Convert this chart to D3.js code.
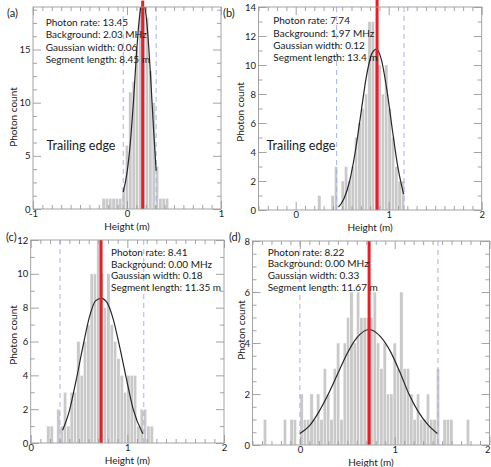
<!DOCTYPE html>
<html><head><meta charset="utf-8">
<script src="https://cdn.jsdelivr.net/npm/d3@7"></script>
<style>
body{margin:0;background:#fff}
svg{display:block}
text{font-family:Lato,"Noto Sans",sans-serif;fill:#1a1a1a}
</style>
</head><body>
<svg id="chart" width="491" height="467"></svg>
<script>
// ---------------- DATA ----------------
const panelLabels = ["(a)", "(b)", "(c)", "(d)"];
const xAxisTitle = "Height (m)";
const yAxisTitle = "Photon count";
const trailingText = "Trailing edge";

// Panel (a)
const xDomainA = [-1, 1];
const yDomainA = [0, 19];
const xTicksA = [-1, 0, 1];
const yTicksA = [0, 5, 10, 15];
const binWidthA = 0.0355;
const binLeftA = [-0.266,-0.231,-0.195,-0.160,-0.124,-0.089,-0.053,-0.018,0.018,0.054,0.089,0.125,0.160,0.196,0.231,0.267,0.302,0.338,0.373,0.409];
const countsA  = [1,1,1,1,1,1,2,6,11,12,15,19,19,18,13,10,4,1,1,1];
const curveXA = [-0.04,0.0,0.035,0.07,0.10,0.13,0.16,0.19,0.22,0.25,0.28,0.31];
const curveYA = [1.6,3.4,6.2,10.3,14.5,17.8,19.4,19.0,16.6,12.6,7.9,3.6];
const redA = 0.167;
const dashedA = [-0.04, 0.31];
const infoA = ["Photon rate: 13.45","Background: 2.03 MHz","Gaussian width: 0.06","Segment length: 8.45 m"];

// Panel (b)
const xDomainB = [-0.4, 2];
const yDomainB = [0, 14];
const xTicksB = [0, 1, 2];
const yTicksB = [0, 2, 4, 6, 8, 10, 12, 14];
const binWidthB = 0.036;
const binLeftB = [0.236,0.380,0.416,0.452,0.488,0.524,0.560,0.596,0.632,0.668,0.704,0.740,0.776,0.812,0.848,0.884,0.920,0.956,0.992,1.028,1.064,1.100,1.136];
const countsB  = [1,1,3,0,2,3,2,3,5,6,7,8,13,13,11,10,8,10,7,5,3,2,2];
const curveXB = [0.46,0.52,0.58,0.64,0.70,0.76,0.82,0.87,0.92,0.98,1.04,1.10,1.16];
const curveYB = [0.2,0.8,2.0,4.0,6.6,9.2,10.8,11.1,10.4,8.3,5.5,2.9,1.1];
const redB = 0.875;
const dashedB = [0.44, 1.165];
const infoB = ["Photon rate: 7.74","Background: 1.97 MHz","Gaussian width: 0.12","Segment length: 13.4 m"];

// Panel (c)
const xDomainC = [0, 2];
const yDomainC = [0, 12];
const xTicksC = [0, 1, 2];
const yTicksC = [0, 2, 4, 6, 8, 10, 12];
const binWidthC = 0.0345;
const binLeftC = [0.166,0.2005,0.235,0.2695,0.304,0.3385,0.373,0.4075,0.442,0.4765,0.511,0.5455,0.580,0.6145,0.649,0.6835,0.718,0.7525,0.787,0.8215,0.856,0.8905,0.925,0.9595,0.994,1.0285,1.063,1.0975,1.132,1.1665,1.201,1.2355];
const countsC  = [1,1,0,2,1,3,1,3,3,6,4,6,7,10,10,12,10,8,10,7,6,5,4,3,4,4,4,1,2,2,1,1];
const curveXC = [0.33,0.40,0.47,0.54,0.61,0.67,0.73,0.79,0.85,0.92,0.99,1.06,1.16];
const curveYC = [0.75,1.9,3.7,5.7,7.5,8.4,8.55,8.3,7.4,5.7,3.8,2.0,0.55];
const redC = 0.728;
const dashedC = [0.303, 1.17];
const infoC = ["Photon rate: 8.41","Background: 0.00 MHz","Gaussian width: 0.18","Segment length: 11.35 m"];

// Panel (d)
const xDomainD = [-0.5, 2];
const yDomainD = [0, 8];
const xTicksD = [0, 1, 2];
const yTicksD = [0, 2, 4, 6, 8];
const binWidthD = 0.0351;
const binLeftD = [-0.386,-0.1755,-0.1053,-0.0702,0,0.0351,0.0702,0.1053,0.1404,0.1755,0.2106,0.2457,0.2808,0.3159,0.351,0.3861,0.4212,0.4563,0.4914,0.5265,0.5616,0.5967,0.6318,0.6669,0.702,0.7371,0.7722,0.8073,0.8424,0.8775,0.9126,0.9477,0.9828,1.0179,1.053,1.0881,1.1232,1.1583,1.1934,1.2285,1.2636,1.2987,1.3338,1.3689,1.404,1.4391,1.5093,1.5444,1.5795,1.755];
const countsD  = [1,1,1,1,2,1,1,2,1,2,1,3,2,1,3,4,1,4,5,6,4,6,5,5,5,5,6,4,3,4,2,2,4,3,6,3,3,2,1,2,1,1,2,1,1,3,1,1,1,1];
const curveXD = [0.0,0.1,0.2,0.3,0.4,0.5,0.6,0.73,0.85,0.95,1.05,1.15,1.25,1.35,1.45];
const curveYD = [0.45,0.75,1.3,2.0,2.8,3.6,4.2,4.53,4.25,3.7,2.9,2.0,1.3,0.8,0.45];
const redD = 0.73;
const dashedD = [0.0, 1.456];
const infoD = ["Photon rate: 8.22","Background: 0.00 MHz","Gaussian width: 0.33","Segment length: 11.67 m"];

// ---------------- LAYOUT ----------------
const panels = [
  {frame:{l:33,t:7,r:221,b:209}, xDomain:xDomainA, yDomain:yDomainA, xTicks:xTicksA, yTicks:yTicksA,
   xMinor:0.1, yMinor:1.25, binLeft:binLeftA, counts:countsA, binWidth:binWidthA, cx:curveXA, cy:curveYA,
   red:redA, redTop:19.6, dashed:dashedA, info:infoA, infoPos:{x:45.7,y:26,dy:12.4},
   trailing:{x:46.5,y:150}, label:{x:7,y:17}, ylab:{x:13,y:117}},
  {frame:{l:258.5,t:7,r:481.7,b:210}, xDomain:xDomainB, yDomain:yDomainB, xTicks:xTicksB, yTicks:yTicksB,
   xMinor:0.1, yMinor:1, binLeft:binLeftB, counts:countsB, binWidth:binWidthB, cx:curveXB, cy:curveYB,
   red:redB, redTop:14.5, dashed:dashedB, info:infoB, infoPos:{x:273.3,y:24.3,dy:12.2},
   trailing:{x:266.5,y:150}, label:{x:223,y:17}, ylab:{x:240,y:112}},
  {frame:{l:30.7,t:240,r:224,b:443}, xDomain:xDomainC, yDomain:yDomainC, xTicks:xTicksC, yTicks:yTicksC,
   xMinor:0.1, yMinor:1, binLeft:binLeftC, counts:countsC, binWidth:binWidthC, cx:curveXC, cy:curveYC,
   red:redC, redTop:12, dashed:dashedC, info:infoC, infoPos:{x:111,y:256.2,dy:11.5},
   trailing:null, label:{x:6,y:241}, ylab:{x:13,y:335}},
  {frame:{l:252.5,t:241,r:489.5,b:445}, xDomain:xDomainD, yDomain:yDomainD, xTicks:xTicksD, yTicks:yTicksD,
   xMinor:0.1, yMinor:0.5, binLeft:binLeftD, counts:countsD, binWidth:binWidthD, cx:curveXD, cy:curveYD,
   red:redD, redTop:8, dashed:dashedD, info:infoD, infoPos:{x:267.7,y:255.5,dy:11.7},
   trailing:null, label:{x:229,y:241}, ylab:{x:240.5,y:330}}
];

const svg = d3.select("#chart");
svg.append("rect").attr("width",491).attr("height",467).attr("fill","#fff");

const axisColor = "#9a9a9a";
const svgWidth = 491;

function minorValues(domain, step, majors) {
  const vals = [];
  const n0 = Math.ceil(domain[0]/step - 1e-6), n1 = Math.floor(domain[1]/step + 1e-6);
  for (let i = n0; i <= n1; i++) {
    const v = +(i*step).toFixed(6);
    if (!majors.some(m => Math.abs(m - v) < 1e-6)) vals.push(v);
  }
  return vals;
}

function styleAxis(g, showText) {
  g.select(".domain").remove();
  g.selectAll(".tick line").attr("stroke", axisColor).attr("stroke-width", 0.9);
  g.selectAll(".tick text").attr("font-size", 9.5).attr("font-family", "Lato, 'Noto Sans', sans-serif").attr("fill", "#1a1a1a");
  if (!showText) g.selectAll(".tick text").remove();
}

panels.forEach((p, i) => {
  const f = p.frame;
  const x = d3.scaleLinear().domain(p.xDomain).range([f.l, f.r]);
  const y = d3.scaleLinear().domain(p.yDomain).range([f.b, f.t]);
  const g = svg.append("g");

  const clipId = "clip" + i;
  svg.append("clipPath").attr("id", clipId).append("rect")
    .attr("x", f.l).attr("y", f.t).attr("width", f.r - f.l).attr("height", f.b - f.t);
  const plot = g.append("g").attr("clip-path", `url(#${clipId})`);

  // bars
  const bins = p.binLeft.map((b, k) => ({left: b, count: p.counts[k]})).filter(d => d.count > 0);
  plot.selectAll("rect.bar").data(bins).enter().append("rect")
    .attr("class", "bar")
    .attr("x", d => x(d.left))
    .attr("width", d => x(d.left + p.binWidth) - x(d.left))
    .attr("y", d => y(d.count))
    .attr("height", d => y(0) - y(d.count))
    .attr("fill", "#c9c9c9")
    .attr("stroke", "#ffffff")
    .attr("stroke-width", 0.45);

  // dashed bounds
  plot.selectAll("line.dash").data(p.dashed).enter().append("line")
    .attr("x1", d => x(d)).attr("x2", d => x(d))
    .attr("y1", f.t).attr("y2", f.b)
    .attr("stroke", "#a9b0ee").attr("stroke-width", 1)
    .attr("stroke-dasharray", "5,4");

  // gaussian fit curve
  const pts = p.cx.map((v, k) => [v, p.cy[k]]);
  plot.append("path").datum(pts)
    .attr("d", d3.line().x(d => x(d[0])).y(d => y(d[1])).curve(d3.curveMonotoneX))
    .attr("fill", "none").attr("stroke", "#262626").attr("stroke-width", 1.2);

  // red line (may extend above frame)
  g.append("line")
    .attr("x1", x(p.red)).attr("x2", x(p.red))
    .attr("y1", Math.max(0, y(p.redTop))).attr("y2", f.b)
    .attr("stroke", "#ec1c24").attr("stroke-width", 3);

  // frame
  g.append("rect").attr("x", f.l).attr("y", f.t).attr("width", f.r - f.l).attr("height", f.b - f.t)
    .attr("fill", "none").attr("stroke", axisColor).attr("stroke-width", 0.9);

  const xMin = minorValues(p.xDomain, p.xMinor, p.xTicks);
  const yMin = minorValues(p.yDomain, p.yMinor, p.yTicks);

  // bottom
  const bottomAxis = g.append("g").attr("transform", `translate(0,${f.b})`)
    .call(d3.axisBottom(x).tickValues(p.xTicks).tickSize(-8).tickPadding(1.5).tickFormat(d => String(d)))
    .call(s => styleAxis(s, true));
  // keep tick labels inside the picture
  bottomAxis.selectAll(".tick text").each(function() {
    const bb = this.getBoundingClientRect();
    if (bb.right > svgWidth - 0.5) {
      d3.select(this).attr("dx", -(bb.right - (svgWidth - 0.5)));
    }
  });
  g.append("g").attr("transform", `translate(0,${f.b})`)
    .call(d3.axisBottom(x).tickValues(xMin).tickSize(-4).tickFormat(""))
    .call(s => styleAxis(s, false));
  // top
  g.append("g").attr("transform", `translate(0,${f.t})`)
    .call(d3.axisTop(x).tickValues(p.xTicks).tickSize(-8).tickFormat(""))
    .call(s => styleAxis(s, false));
  g.append("g").attr("transform", `translate(0,${f.t})`)
    .call(d3.axisTop(x).tickValues(xMin).tickSize(-4).tickFormat(""))
    .call(s => styleAxis(s, false));
  // left
  g.append("g").attr("transform", `translate(${f.l},0)`)
    .call(d3.axisLeft(y).tickValues(p.yTicks).tickSize(-8).tickPadding(2.5).tickFormat(d => String(d)))
    .call(s => styleAxis(s, true));
  g.append("g").attr("transform", `translate(${f.l},0)`)
    .call(d3.axisLeft(y).tickValues(yMin).tickSize(-4).tickFormat(""))
    .call(s => styleAxis(s, false));
  // right
  g.append("g").attr("transform", `translate(${f.r},0)`)
    .call(d3.axisRight(y).tickValues(p.yTicks).tickSize(-8).tickFormat(""))
    .call(s => styleAxis(s, false));
  g.append("g").attr("transform", `translate(${f.r},0)`)
    .call(d3.axisRight(y).tickValues(yMin).tickSize(-4).tickFormat(""))
    .call(s => styleAxis(s, false));

  // info text
  p.info.forEach((t, k) => {
    g.append("text").attr("x", p.infoPos.x).attr("y", p.infoPos.y + k * p.infoPos.dy)
      .attr("font-size", 10).text(t);
  });

  if (p.trailing) {
    g.append("text").attr("x", p.trailing.x).attr("y", p.trailing.y)
      .attr("font-size", 12.5).text(trailingText);
  }

  // panel label
  g.append("text").attr("x", p.label.x).attr("y", p.label.y).attr("font-size", 11).text(panelLabels[i]);

  // axis titles
  g.append("text").attr("transform", `translate(${p.ylab.x},${p.ylab.y}) rotate(-90)`)
    .attr("text-anchor", "middle").attr("dominant-baseline", "central")
    .attr("font-size", 10).text(yAxisTitle);
  g.append("text").attr("x", (f.l + f.r) / 2).attr("y", f.b + 20.5)
    .attr("text-anchor", "middle").attr("font-size", 10).text(xAxisTitle);
});
</script>
</body></html>
